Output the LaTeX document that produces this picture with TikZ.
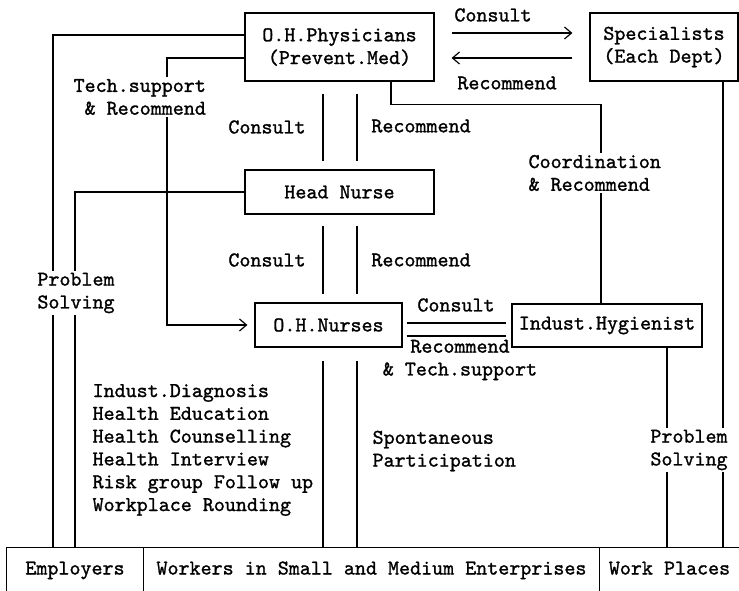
\documentclass[tikz,border=0pt]{standalone}
\usepackage{fontspec}
\usetikzlibrary{arrows.meta}
\newfontfamily\chartfam{lmmono10-regular.otf}[FakeBold=1.2]
\newcommand{\chartfont}{\chartfam\fontsize{21}{22.8}\selectfont}
\tikzstyle{box} = [rectangle, draw=black, align=center, inner sep=2pt, font=\chartfont]
\tikzstyle{cell} = [rectangle, minimum height=43, inner sep=0pt, text height=14, text depth=4, font=\chartfont]
\tikzstyle{txt} = [inner sep=0pt, font=\chartfont]
\tikzstyle{lbl} = [fill=white, inner sep=2pt, font=\chartfont]

\begin{document}
\begin{tikzpicture}[x=1pt, y=-1pt, line width=1.2pt, >={Straight Barb[length=7pt,width=12pt]}]
    \useasboundingbox (0,0) rectangle (739,591);

    \node at (339.5,47) [box, minimum width=189, minimum height=68] (phys) {O.H.Physicians\\(Prevent.Med)};
    \node at (664,47) [box, minimum width=148, minimum height=68] (spec) {Specialists\\(Each Dept)};
    \node at (339.5,192) [box, minimum width=189, minimum height=44] (hnurse) {Head Nurse};
    \node at (328.5,325) [box, minimum width=147, minimum height=44] (ohnurse) {O.H.Nurses};
    \node at (607,325.5) [box, minimum width=190, minimum height=43] (hygien) {Indust.Hygienist};

    \node at (75,569.5) [cell, minimum width=136] (employers) {Employers};
    \node at (371.5,569.5) [cell, minimum width=457] (workers) {Workers in Small and Medium Enterprises};
    \node at (669.5,569.5) [cell, minimum width=139] (places) {Work Places};

    \draw (employers.south west) -- (employers.north west) -- (places.north east);
    \draw (employers.north east) -- (employers.south east);
    \draw (places.north west) -- (places.south west);

    \draw[->, shorten <=17, shorten >=17] (phys.east |- 0,33) -- (spec.west |- 0,33);
    \draw[->, shorten <=17, shorten >=17] (spec.west |- 0,58) -- (phys.east |- 0,58);
    \draw ([yshift=12]phys.west) -| (employers.north -| 53,0);
    \draw[->, shorten >=7] ([yshift=-11]phys.west) -| (ohnurse.west -| 167,0) -- (ohnurse.west);
    \draw (hnurse.west) -| (employers.north -| 75,0);
    \draw ([xshift=51.5]phys.south) -- ++(0,23) -| (hygien.north -| 601,0);
    \draw (spec.south -| 723,0) -- (places.north -| 723,0);
    \draw (hygien.south -| 667,0) -- (places.north -| 667,0);

    \draw[shorten <=12, shorten >=8] (phys.south -| 323,0) -- (hnurse.north -| 323,0);
    \draw[shorten <=12, shorten >=8] (phys.south -| 357,0) -- (hnurse.north -| 357,0);
    \draw[shorten <=11, shorten >=8] (hnurse.south -| 323,0) -- (ohnurse.north -| 323,0);
    \draw[shorten <=11, shorten >=8] (hnurse.south -| 357,0) -- (ohnurse.north -| 357,0);
    \draw[shorten <=13] (ohnurse.south -| 323,0) -- (workers.north -| 323,0);
    \draw[shorten <=13] (ohnurse.south -| 357,0) -- (workers.north -| 357,0);
    \draw[shorten <=4, shorten >=5] (ohnurse.east |- 0,323) -- (hygien.west |- 0,323);
    \draw[shorten <=4, shorten >=5] (ohnurse.east |- 0,336) -- (hygien.west |- 0,336);

    \node at (493,15) [txt] (consultA) {Consult};
    \node at (507,83) [txt] (recomA) {Recommend};
    \node at (71,97) [lbl, anchor=west, align=left] (techA) {Tech.support\\~\& Recommend};
    \node at (267,127) [txt] (consultB) {Consult};
    \node at (421,126) [txt] (recomB) {Recommend};
    \node at (267,260) [txt] (consultC) {Consult};
    \node at (421,260) [txt] (recomC) {Recommend};
    \node at (526,173) [lbl, anchor=west, align=left] (coordA) {Coordination\\\& Recommend};
    \node at (76,293) [lbl, align=center] (probA) {Problem\\Solving};
    \node at (456,305) [txt] (consultD) {Consult};
    \node at (460,360) [txt, align=center] (recomD) {Recommend\\\& Tech.support};
    \node at (92,450) [txt, anchor=west, align=left] (tasks) {Indust.Diagnosis\\Health Education\\Health Counselling\\Health Interview\\Risk group Follow up\\Workplace Rounding};
    \node at (372,451) [txt, anchor=west, align=left] (spont) {Spontaneous\\Participation};
    \node at (689,450) [lbl, align=center] (probB) {Problem\\Solving};

\end{tikzpicture}
\end{document}
